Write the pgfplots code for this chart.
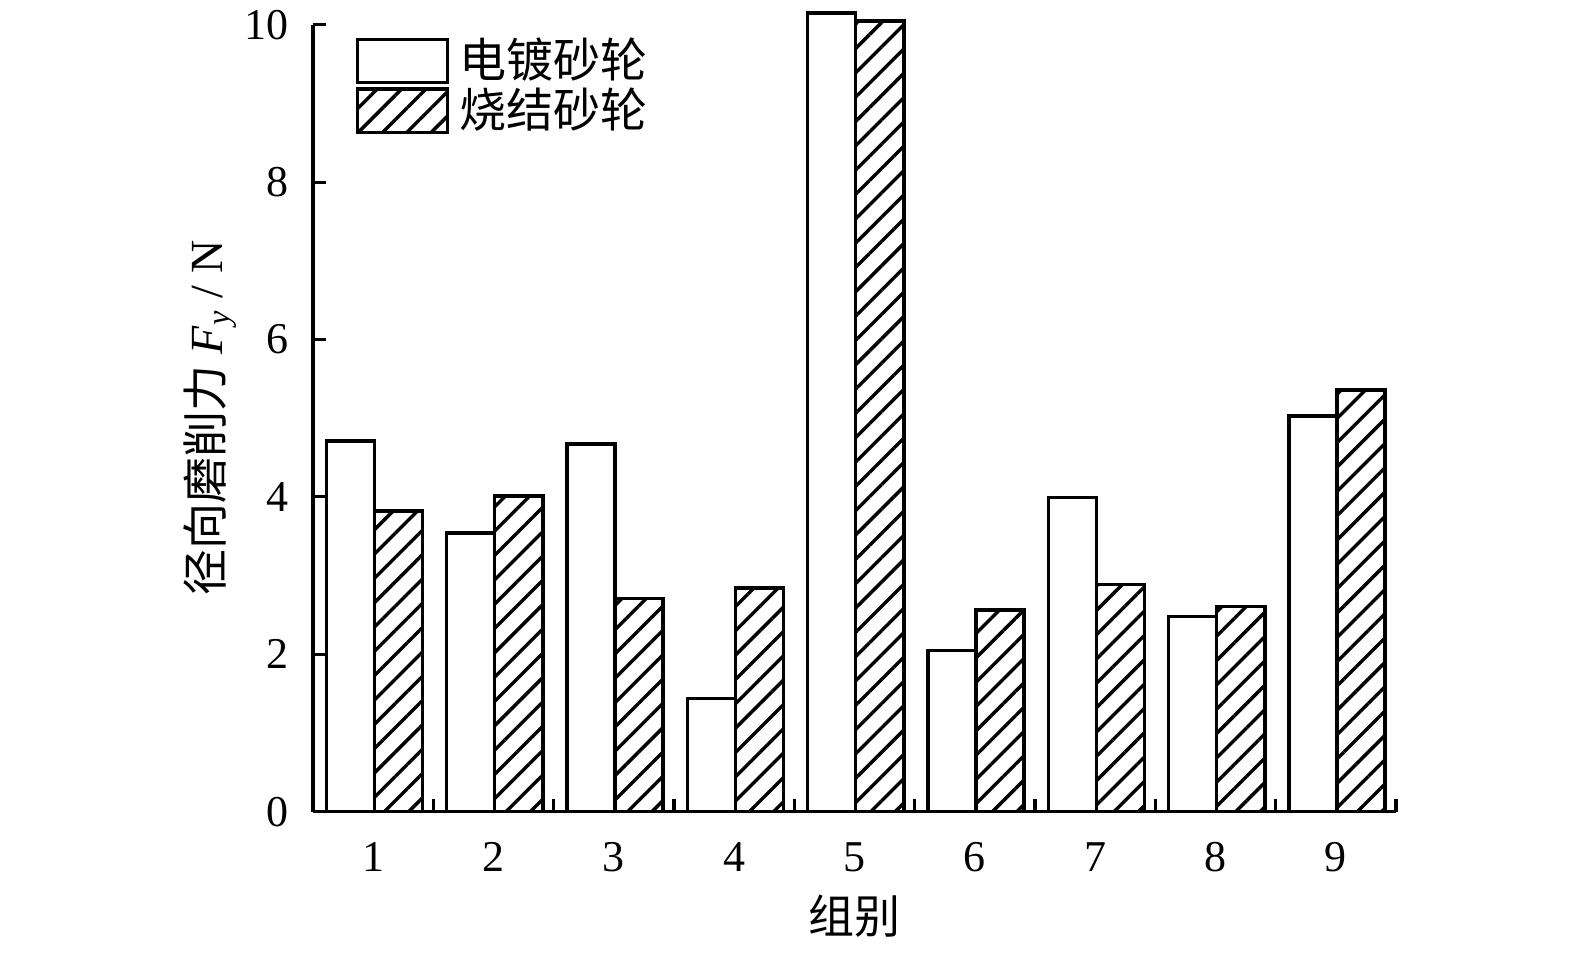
\documentclass[border=0pt]{standalone}
\usepackage{fontspec}
\setmainfont{Liberation Serif}
\newfontfamily\cjk{Noto Sans CJK SC}
\usepackage{pgfplots}
\pgfplotsset{compat=1.18}
\usetikzlibrary{patterns.meta}

\begin{document}
\begin{tikzpicture}
\path[use as bounding box] (-78.25pt,-35.3pt) rectangle (315.5pt,202.9pt);
\begin{axis}[
  at={(0pt,0pt)}, anchor=south west,
  scale only axis, width=270.75pt, height=196.7pt,
  xmin=0.5, xmax=9.5, ymin=0, ymax=10,
  axis x line*=bottom, axis y line*=left,
  x axis line style={-}, y axis line style={-},
  axis line style={line width=0.8pt, black},
  clip=false,
  ybar, bar width=0.4,
  tick align=inside,
  major tick length=3.2pt,
  tick style={line width=0.8pt, black},
  xtick={1.5,2.5,...,9.5}, xticklabels={},
  extra x ticks={1,2,...,9},
  extra x tick labels={1,2,3,4,5,6,7,8,9},
  extra x tick style={tick style={draw=none}},
  xticklabel style={anchor=center, yshift=-11.4pt, font=\fontsize{11}{13}\selectfont},
  ytick={0,2,...,10},
  yticklabel style={anchor=east, xshift=-2.5pt, font=\fontsize{11}{13}\selectfont},
  /pgf/number format/assume math mode=true,
  xlabel={\cjk 组别},
  xlabel style={at={(axis description cs:0.5,-0.1322)}, anchor=center, font=\fontsize{11.5}{13}\selectfont},
  ylabel={{\cjk 径向磨削力} \textit{F}\textsubscript{\textit{y}} / N},
  ylabel style={at={(axis description cs:-0.0951,0.5)}, anchor=center, rotate=0, font=\fontsize{11.5}{13}\selectfont},
  legend image code/.code={\draw[#1, bar shift=0pt] (0pt,-5.4pt) rectangle (22.5pt,5.4pt);},
  legend style={draw=none, fill=none, at={(axis description cs:0,1)}, anchor=north west,
    xshift=10.5pt, yshift=-3.0pt, inner sep=0pt, row sep=0.8pt,
    nodes={inner xsep=2.6pt, inner ysep=0pt},
    font=\cjk\fontsize{11.75}{12}\selectfont},
  legend cell align=left,
]
\addplot[draw=black, fill=white, line width=0.85pt, bar shift=-0.19] coordinates {
  (1,4.71) (2,3.54) (3,4.67) (4,1.44) (5,10.15) (6,2.05) (7,3.99) (8,2.48) (9,5.03)};
\addplot[draw=black, line width=0.85pt, bar shift=0.21,
  pattern={Lines[angle=45, distance=4.3pt, line width=0.85pt]}] coordinates {
  (1,3.82) (2,4.01) (3,2.71) (4,2.84) (5,10.05) (6,2.56) (7,2.89) (8,2.61) (9,5.36)};
\legend{电镀砂轮,烧结砂轮}
\end{axis}
\end{tikzpicture}
\end{document}
